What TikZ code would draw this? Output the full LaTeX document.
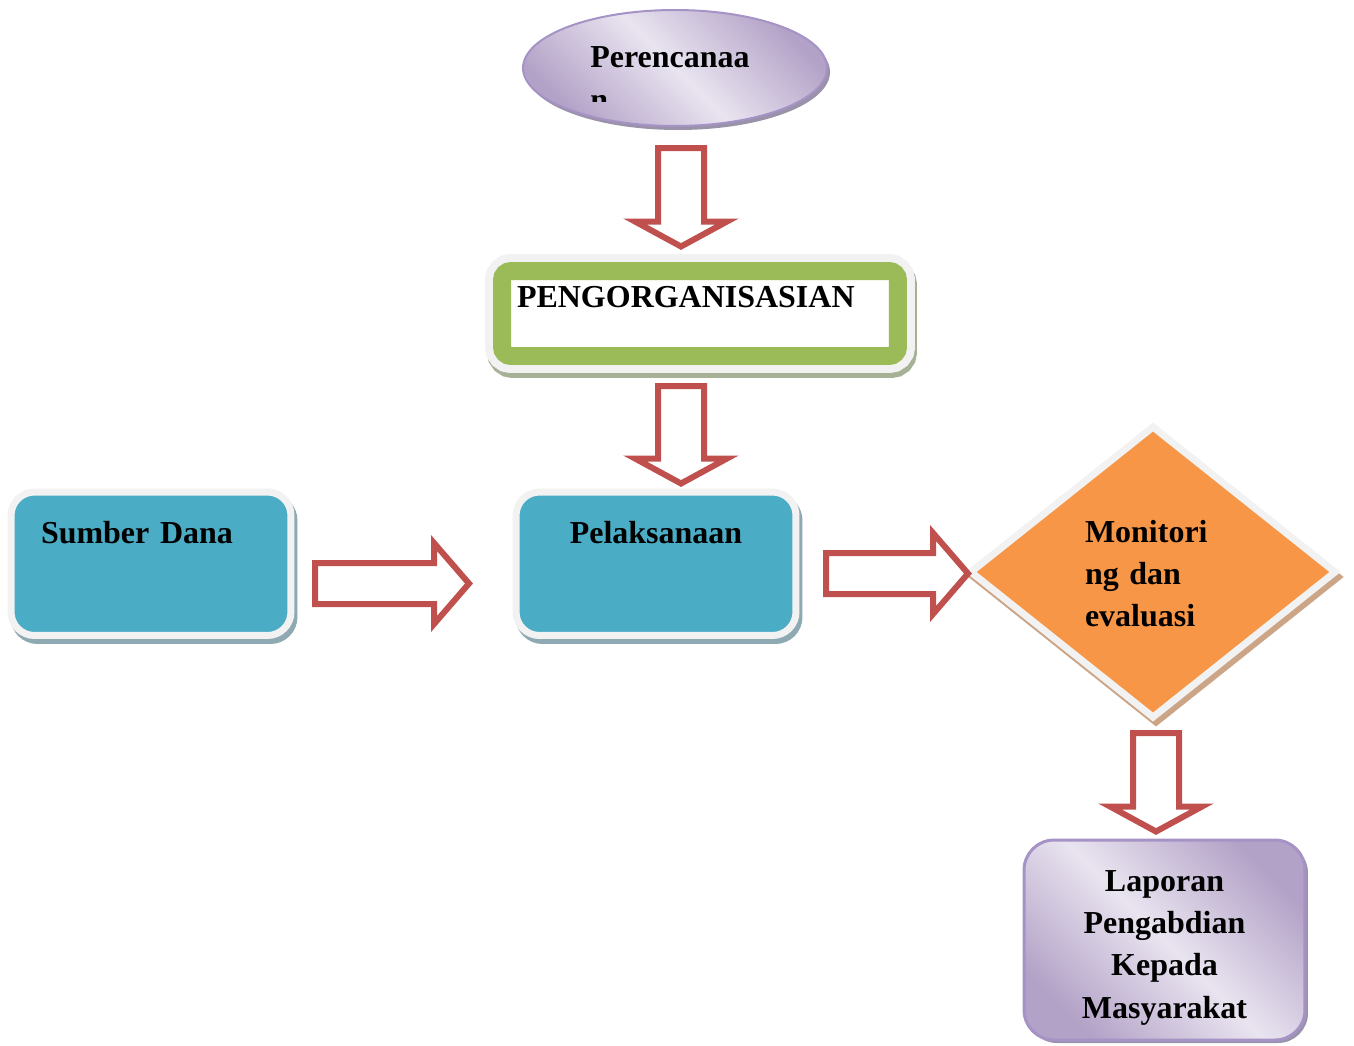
\documentclass[tikz,border=0pt]{standalone}
\usepackage{fontspec}
\setmainfont{Liberation Serif}
\usetikzlibrary{shapes.geometric,shadows,calc}
\definecolor{arrowred}{HTML}{C0504D}
\definecolor{boxblue}{HTML}{4BACC6}
\definecolor{diaorange}{HTML}{F79646}
\definecolor{orggreen}{HTML}{9BBB59}
\definecolor{framegray}{HTML}{F2F2F2}
\definecolor{blueshadow}{HTML}{8FA9B2}
\definecolor{greenshadow}{HTML}{A6B196}
\definecolor{tanshadow}{HTML}{CCA586}
\definecolor{lilacdark}{HTML}{B3A2C7}
\definecolor{lilaclight}{HTML}{E9E4F0}
\definecolor{lilacline}{HTML}{A593C6}
\definecolor{lilacshadow}{HTML}{9A92A8}
\begin{document}
\begin{tikzpicture}[x=0.02cm, y=-0.02cm,
  txt/.style={font=\fontsize{18.2}{24}\selectfont\bfseries, inner sep=0pt},
  blockarrow/.style={draw=arrowred, fill=white, line width=0.12cm},
  bluebox/.style={txt, rectangle, rounded corners=0.47cm, fill=boxblue, draw=framegray, line width=0.14cm, minimum width=5.6cm, minimum height=2.87cm, text width=4.4cm, text height=0.44cm, text depth=1.27cm, drop shadow={fill=blueshadow, draw=blueshadow, line width=0.14cm, opacity=1, shadow xshift=0.06cm, shadow yshift=-0.1cm}},
  lilac/.style={top color=lilacdark, bottom color=lilacdark, middle color=lilaclight, shading angle=-45, draw=lilacline}]
\useasboundingbox (0,0) rectangle (1354,1045);
% planning
\node[ellipse, lilac, line width=0.04cm, minimum width=6.08cm, minimum height=2.32cm, drop shadow={fill=lilacshadow, opacity=1, shadow xshift=0.06cm, shadow yshift=-0.08cm}] (plan) at (675,68) {};
\begin{scope}
\clip (510,5) rectangle (840,101);
\node[txt, anchor=base west, align=left] (plantext) at (590,110) {Perencanaa\\n};
\end{scope}
% organising
\node[txt, rectangle, rounded corners=0.18cm, fill=white, draw=orggreen, line width=0.36cm, minimum width=7.92cm, minimum height=1.7cm, text width=7.32cm, align=left, text height=0.44cm, text depth=0.7cm, drop shadow={fill=greenshadow, draw=greenshadow, line width=0.68cm, opacity=1, shadow xshift=0.04cm, shadow yshift=-0.1cm}, preaction={draw=framegray, line width=0.68cm}] (org) at (700,313.5) {PENGORGANISASIAN};
% blue boxes
\node[bluebox, align=left] (dana) at (151,563.75) {Sumber Dana};
\node[bluebox, align=center] (pel) at (656,563.75) {Pelaksanaan};
% monitoring
\node[txt, diamond, fill=diaorange, draw=framegray, line width=0.14cm, minimum width=7.34cm, minimum height=5.86cm, text width=2.72cm, align=left, text height=0.44cm, text depth=1.64cm, drop shadow={fill=tanshadow, draw=tanshadow, line width=0.14cm, opacity=1, shadow xshift=0.06cm, shadow yshift=-0.1cm}] (monev) at (1153,572) {Monitori\\ng dan\\evaluasi};
% report
\node[txt, rectangle, rounded corners=0.6cm, lilac, line width=0.06cm, minimum width=5.62cm, minimum height=4cm, text width=5.2cm, align=center, text height=0.72cm, text depth=2.66cm, drop shadow={fill=lilacshadow, opacity=1, shadow xshift=0.06cm, shadow yshift=-0.06cm}] (lapor) at (1164.5,940) {Laporan\\Pengabdian\\Kepada\\Masyarakat};
% block arrows
\coordinate (a1s) at (681,148);
\coordinate (a1e) at (681,246.5);
\coordinate (a2s) at (681,386);
\coordinate (a2e) at (681,483.5);
\coordinate (a3s) at (1156,733);
\coordinate (a3e) at (1156,831.5);
\coordinate (a4s) at (315,583.5);
\coordinate (a4e) at (469,583.5);
\coordinate (a5s) at (826,573.5);
\coordinate (a5e) at (968,573.5);
\draw[blockarrow] ($(a1s)+(-23,0)$) -- ($(a1s)+(23,0)$) -- ($(a1e)+(23,-25)$) -- ($(a1e)+(46,-25)$) -- (a1e) -- ($(a1e)+(-46,-25)$) -- ($(a1e)+(-23,-25)$) -- cycle;
\draw[blockarrow] ($(a2s)+(-23,0)$) -- ($(a2s)+(23,0)$) -- ($(a2e)+(23,-25)$) -- ($(a2e)+(46,-25)$) -- (a2e) -- ($(a2e)+(-46,-25)$) -- ($(a2e)+(-23,-25)$) -- cycle;
\draw[blockarrow] ($(a3s)+(-23,0)$) -- ($(a3s)+(23,0)$) -- ($(a3e)+(23,-25)$) -- ($(a3e)+(46,-25)$) -- (a3e) -- ($(a3e)+(-46,-25)$) -- ($(a3e)+(-23,-25)$) -- cycle;
\draw[blockarrow] ($(a4s)+(0,-20.5)$) -- ($(a4e)+(-35,-20.5)$) -- ($(a4e)+(-35,-40.5)$) -- (a4e) -- ($(a4e)+(-35,40.5)$) -- ($(a4e)+(-35,20.5)$) -- ($(a4s)+(0,20.5)$) -- cycle;
\draw[blockarrow] ($(a5s)+(0,-20.5)$) -- ($(a5e)+(-35,-20.5)$) -- ($(a5e)+(-35,-40.5)$) -- (a5e) -- ($(a5e)+(-35,40.5)$) -- ($(a5e)+(-35,20.5)$) -- ($(a5s)+(0,20.5)$) -- cycle;
\end{tikzpicture}
\end{document}
